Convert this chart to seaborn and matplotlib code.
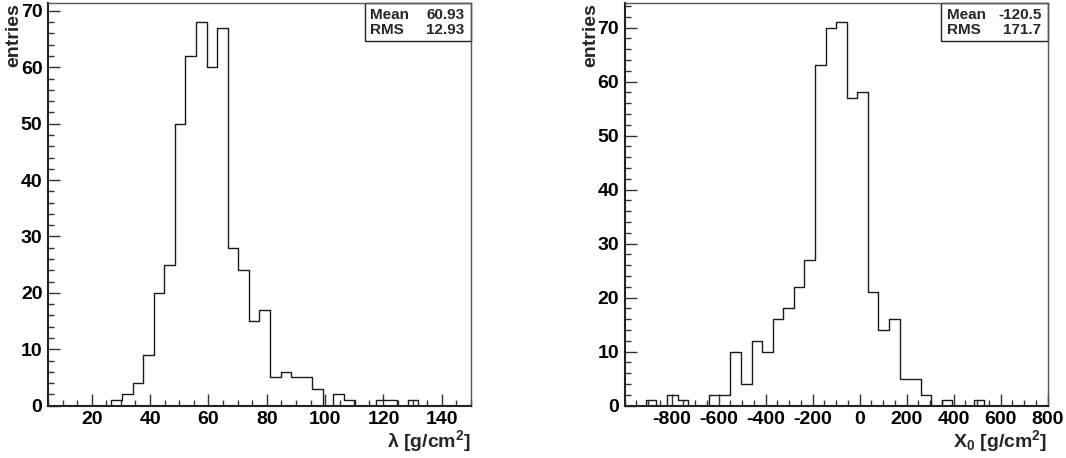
import numpy as np
import pandas as pd
import matplotlib
matplotlib.use("Agg")
import matplotlib.pyplot as plt
from matplotlib.ticker import MultipleLocator, FixedLocator
import seaborn as sns

# histogram contents (40 bins each)
lam_edges = list(np.linspace(5, 150, 41))
lam_counts = [0, 0, 0, 0, 0, 0, 1, 2, 4, 9,
              20, 25, 50, 62, 68, 60, 67, 28, 24, 15,
              17, 5, 6, 5, 5, 3, 0, 2, 1, 0,
              0, 1, 1, 0, 1, 0, 0, 0, 0, 0]
lam_mean, lam_rms = "60.93", "12.93"

x0_edges = list(np.linspace(-1000, 800, 41))
x0_counts = [0, 0, 1, 0, 2, 1, 0, 0, 2, 2,
             10, 4, 12, 10, 16, 18, 22, 27, 63, 70,
             71, 57, 58, 21, 14, 16, 5, 5, 2, 0,
             1, 0, 0, 1, 0, 0, 0, 0, 0, 0]
x0_mean, x0_rms = "-120.5", "171.7"

sns.set_style("white")
plt.rcParams["font.family"] = ["Liberation Sans", "DejaVu Sans"]
plt.rcParams["font.weight"] = "bold"
plt.rcParams["mathtext.default"] = "regular"
plt.rcParams["axes.unicode_minus"] = False

fig = plt.figure(figsize=(10.66, 4.58), dpi=100)
ax1 = fig.add_axes([0.045, 0.1142, 0.3968, 0.8793])
ax2 = fig.add_axes([0.586, 0.1142, 0.3968, 0.8793])


def draw_hist(ax, edges, counts, xminor, xlabel, mean, rms, xticks):
    e = np.array(edges)
    df = pd.DataFrame({"x": 0.5 * (e[:-1] + e[1:]), "n": counts})
    sns.histplot(data=df, x="x", weights="n", bins=edges, element="step",
                 fill=False, color="#1a1a1a", linewidth=1.0, ax=ax)
    ax.set_xlim(edges[0], edges[-1])
    ax.set_ylim(0, max(counts) * 1.05)
    ax.xaxis.set_major_locator(FixedLocator(xticks))
    ax.xaxis.set_minor_locator(MultipleLocator(xminor))
    ax.yaxis.set_major_locator(MultipleLocator(10))
    ax.yaxis.set_minor_locator(MultipleLocator(2))
    ax.tick_params(axis="both", which="major", direction="in", length=8.5,
                   width=1.0, labelsize=14, colors="#333333",
                   labelcolor="black", pad=4)
    ax.tick_params(axis="both", which="minor", direction="in", length=4.3,
                   width=1.0, colors="#333333")
    ax.tick_params(bottom=True, left=True, top=False, right=False,
                   which="both")
    for lab in ax.get_xticklabels() + ax.get_yticklabels():
        lab.set_fontweight("bold")
    for s in ["left", "bottom"]:
        ax.spines[s].set_color("#222222")
        ax.spines[s].set_linewidth(1.5)
    for s in ["top", "right"]:
        ax.spines[s].set_color("#555555")
        ax.spines[s].set_linewidth(1.0)
    ax.set_ylabel("entries", fontsize=14, fontweight="bold", loc="top")
    ax.yaxis.set_label_coords(-0.061, 1.0)
    ax.set_xlabel(xlabel, fontsize=14, fontweight="bold", loc="right",
                  labelpad=0)
    # stats box
    ax.text(0.762, 0.988, "Mean\nRMS", transform=ax.transAxes, ha="left",
            va="top", fontsize=11, fontweight="bold", linespacing=1.15)
    ax.text(0.985, 0.988, mean + "\n" + rms, transform=ax.transAxes,
            ha="right", va="top", fontsize=11, fontweight="bold",
            linespacing=1.15)
    ax.add_patch(plt.Rectangle((0.749, 0.906), 0.251, 0.094,
                               transform=ax.transAxes, fill=False,
                               edgecolor="#222222", linewidth=1.0,
                               clip_on=False))


draw_hist(ax1, lam_edges, lam_counts, 5, "λ [g/cm$^{2}$]",
          lam_mean, lam_rms, [20, 40, 60, 80, 100, 120, 140])
draw_hist(ax2, x0_edges, x0_counts, 50, "X$_{0}$ [g/cm$^{2}$]",
          x0_mean, x0_rms, [-800, -600, -400, -200, 0, 200, 400, 600, 800])

fig.savefig("out.png", dpi=100)
